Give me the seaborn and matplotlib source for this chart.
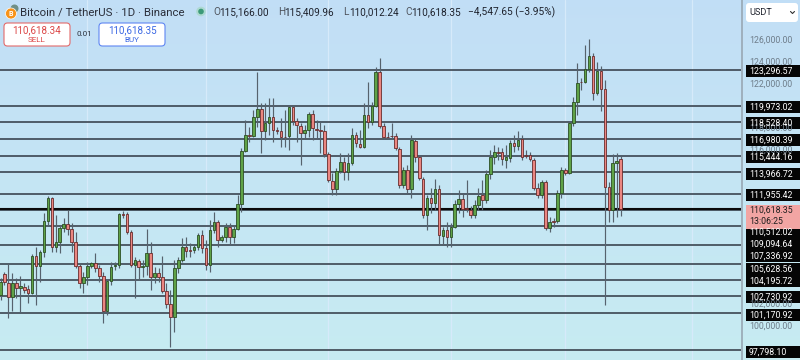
import numpy as np
import pandas as pd
import seaborn as sns
import matplotlib
matplotlib.use("Agg")
import matplotlib.pyplot as plt
from matplotlib.patches import FancyBboxPatch, Rectangle, Circle

# ---------------- data ----------------
opens = [102818, 104727, 103909, 102636, 103909, 103455, 103545, 103364, 103000, 106364,
         105455, 106727, 109545, 111636, 107182, 107636, 108909, 109273, 108818, 107636,
         105455, 103909, 104455, 105455, 105727, 105273, 104545, 101364, 104091, 105455,
         105545, 110182, 110182, 108545, 105545, 105909, 105364, 105455, 106636, 104455,
         104818, 104455, 103182, 102000, 100818, 105273, 106000, 107182, 106909, 106909,
         107182, 108273, 107091, 105545, 108727, 109455, 107818, 108091, 109000, 108091,
         108818, 111091, 115909, 117364, 117273, 119000, 119727, 117727, 118455, 119000,
         117818, 117727, 117182, 117273, 119909, 118636, 118182, 117545, 117818, 119273,
         117909, 117818, 117727, 115636, 113182, 112455, 114091, 114909, 114000, 114818,
         117364, 116545, 116273, 119182, 118545, 120000, 123091, 118182, 117182, 117273,
         117273, 116091, 112818, 114182, 112455, 116818, 115364, 113364, 110091, 111636,
         111182, 112455, 108182, 108727, 108091, 109000, 111091, 111545, 110727, 110545,
         110091, 111000, 111909, 111455, 113818, 115364, 115818, 115818, 115091, 115273,
         116636, 116364, 117000, 115545, 115545, 115091, 112545, 111909, 113091, 108909,
         109545, 109545, 112091, 114182, 113909, 118455, 120364, 122182, 122182, 123364,
         124545, 121182, 123182, 121545, 112636, 110545, 114818, 115166.00]
closes = [104000, 104000, 102636, 103909, 103455, 103636, 103273, 103000, 106364, 105455,
          106727, 109545, 111636, 107182, 107636, 108909, 109273, 108818, 107636, 105455,
          103909, 104455, 105455, 105727, 105273, 104545, 101364, 104091, 105364, 105545,
          110182, 110091, 108545, 105545, 106000, 105364, 105455, 106636, 104455, 104818,
          104455, 103182, 102000, 100818, 105273, 106000, 107182, 106818, 106860, 107182,
          108273, 107091, 105545, 108727, 109455, 107818, 108091, 109000, 108091, 108818,
          111091, 115909, 117364, 117273, 119000, 119727, 117727, 118455, 119000, 117818,
          117727, 117182, 117140, 119909, 118636, 118273, 117545, 117818, 119273, 118000,
          117860, 117770, 115636, 113273, 112455, 114091, 114909, 114000, 114818, 117364,
          116636, 116273, 119182, 118545, 120000, 123091, 118182, 117182, 117140, 117230,
          116182, 112818, 114182, 112455, 116909, 115364, 113455, 110091, 111636, 111182,
          112455, 108273, 108727, 108091, 109000, 111091, 111545, 110636, 110636, 110091,
          111000, 111818, 111455, 113818, 115364, 115818, 115770, 115182, 115364, 116636,
          116364, 116909, 115364, 115500, 115182, 112545, 111909, 113091, 108909, 109455,
          109500, 112091, 114182, 113909, 118455, 120364, 122091, 122140, 123364, 124545,
          121182, 123182, 121545, 112636, 110545, 114818, 115000, 110618.35]
highs = [104364, 104909, 105636, 104818, 104364, 104545, 103909, 103727, 106545, 107182,
         106909, 110273, 111818, 111727, 110091, 109182, 109818, 110545, 109364, 108545,
         105727, 104909, 105818, 105818, 106636, 105545, 104909, 104182, 105818, 105818,
         110273, 110455, 110364, 108727, 106273, 106091, 106000, 108818, 107636, 105364,
         105273, 106364, 103909, 103273, 106000, 106273, 108000, 108091, 107545, 107364,
         108455, 108727, 107818, 109636, 110364, 109636, 108273, 109364, 109364, 109182,
         111909, 116182, 118727, 118091, 119636, 123091, 120273, 120273, 120727, 120727,
         118091, 118909, 119636, 120091, 120091, 118909, 118455, 118273, 119455, 119636,
         118727, 118545, 118273, 115818, 113909, 114364, 115727, 115364, 115727, 118000,
         117636, 117818, 120273, 122182, 120364, 123545, 124364, 118455, 117636, 118455,
         117545, 116273, 114455, 114636, 117364, 117000, 115545, 113545, 111909, 112545,
         113364, 112818, 109000, 109455, 109364, 111455, 112364, 112000, 113273, 110909,
         111455, 112545, 113273, 114182, 116000, 116455, 116273, 116182, 116455, 116909,
         117364, 117727, 117364, 116000, 115818, 115273, 113000, 113273, 113273, 109909,
         109818, 112364, 114455, 114364, 118636, 120818, 123909, 122545, 125545, 126091,
         124818, 124000, 123636, 122364, 113091, 115636, 115727, 115409.96]
lows = [102364, 103727, 100727, 101364, 102545, 101273, 103000, 102091, 102950, 101909,
        104000, 106273, 109182, 106727, 106727, 106636, 108545, 108273, 106727, 105273,
        103455, 103000, 103727, 105273, 104909, 104000, 100273, 101000, 103727, 105091,
        105273, 109818, 108364, 105364, 102545, 104182, 104455, 104636, 103273, 103909,
        104000, 103000, 101636, 98091, 99455, 104818, 105818, 106273, 106273, 106636,
        106909, 106636, 105091, 104909, 108455, 107182, 107636, 107636, 107364, 107545,
        108727, 110364, 115818, 116727, 117182, 118091, 115727, 116909, 117364, 116727,
        117455, 116273, 116273, 116000, 118273, 116727, 114636, 117091, 117182, 116909,
        117091, 115727, 115364, 113091, 111909, 111909, 113909, 113273, 113273, 114636,
        116273, 116182, 116182, 118000, 118273, 119909, 118000, 117000, 117000, 117000,
        116000, 112545, 112545, 112091, 111636, 114909, 113273, 109818, 108727, 110273,
        110545, 107364, 107364, 107182, 107182, 108909, 110273, 109909, 110364, 109818,
        109818, 110545, 110545, 111182, 113364, 114727, 115091, 114636, 114364, 114909,
        115818, 116000, 115091, 115273, 115000, 112364, 111636, 111636, 108727, 108545,
        109000, 109364, 111636, 113727, 113818, 118182, 119182, 121455, 122091, 123091,
        120545, 121000, 119545, 101909, 109455, 109455, 109909, 110012.24]

level_values = [123296.57, 119973.02, 118528.40, 116980.39, 115444.16, 113966.72,
                111955.42, 110512.02, 109094.64, 107336.92, 105628.56, 104195.72,
                102730.92, 101170.92, 97798.10]
level_labels = ["123,296.57", "119,973.02", "118,528.40", "116,980.39", "115,444.16",
                "113,966.72", "111,955.42", "110,512.02", "109,094.64", "107,336.92",
                "105,628.56", "104,195.72", "102,730.92", "101,170.92", "97,798.10"]
axis_tick_labels = ["126,000.00", "124,000.00", "122,000.00", "118,000.00",
                    "116,000.00", "102,000.00", "100,000.00"]
last_price = 110618.35
last_price_label = "110,618.35"
countdown = "13:06:25"
title = "Bitcoin / TetherUS · 1D · Binance"
ohlc_text = [("O", "115,166.00"), ("H", "115,409.96"), ("L", "110,012.24"), ("C", "110,618.35")]
change_text = "−4,547.65 (−3.95%)"
sell_price, buy_price, spread = "110,618.34", "110,618.35", "0.01"

df = pd.DataFrame({"open": opens, "high": highs, "low": lows, "close": closes})
df["idx"] = np.arange(len(df))
df["up"] = df["close"] >= df["open"]

# ---------------- figure ----------------
sns.set_theme(style="white")
plt.rcParams["font.family"] = ["Roboto", "DejaVu Sans"]

W, H = 800, 360
fig = plt.figure(figsize=(8, 3.6), dpi=100)

# background gradient
bg = fig.add_axes([0, 0, 1, 1], zorder=0)
top = np.array([0.760, 0.872, 0.965])
bot = np.array([0.780, 0.925, 0.948])
t = np.linspace(0, 1, 256)[:, None]
grad = (top[None, :] * (1 - t) + bot[None, :] * t)[:, None, :]
bg.imshow(grad, aspect="auto", extent=[0, 1, 0, 1])
bg.axis("off")

# price -> pixel mapping:  y_px = 40 + (126000 - p) * 0.011
def py(p):
    return 40 + (126000 - p) * 0.011

plot_w = 741
ax = fig.add_axes([0, 0, plot_w / W, 1], zorder=1)
ax.patch.set_alpha(0)
xmin = -0.13
ax.set_xlim(xmin, xmin + plot_w / 3.95)
ax.set_ylim(126000 - (360 - 40) / 0.011, 126000 + 40 / 0.011)
ax.set_xticks([])
ax.set_yticks([])
sns.despine(ax=ax, left=True, bottom=True)

# faint vertical grid
for gx in [22, 52, 83, 114, 143, 175]:
    ax.axvline(gx, color="#d6eafa", lw=0.9, zorder=0.5)

# horizontal levels
for lv in level_values:
    ax.axhline(lv, color="#3b4550", lw=1.2, zorder=1)
ax.axhline(last_price, color="#0a0a0a", lw=1.5, zorder=1.2)

# candles
up_fill, up_edge = "#5fa247", "#2c4f25"
dn_fill, dn_edge = "#ea8681", "#6a2c2c"
ax.vlines(df["idx"], df["low"], df["high"], color="#56626d", lw=0.85, zorder=2)
body_bottom = np.minimum(df["open"], df["close"])
body_h = np.maximum(np.abs(df["close"] - df["open"]), 70)
ax.bar(df["idx"], body_h, bottom=body_bottom, width=0.66,
       color=np.where(df["up"], up_fill, dn_fill),
       edgecolor=np.where(df["up"], up_edge, dn_edge), linewidth=0.6, zorder=3)

# ---------------- overlay in pixel coords ----------------
ov = fig.add_axes([0, 0, 1, 1], zorder=5)
ov.set_xlim(0, W)
ov.set_ylim(H, 0)
ov.axis("off")
ov.patch.set_alpha(0)

# right price-scale separator
ov.plot([742, 742], [0, H], color="#98a7b3", lw=1.2)

# gray axis labels
for lab in axis_tick_labels:
    val = float(lab.replace(",", ""))
    ov.text(749, py(val), lab, fontsize=6.3, color="#6e7d8a", va="center", ha="left")

# black level boxes
label_y = [71, 107, 123, 140, 157, 174, 195, 232.3, 244, 256.3, 268.6, 281, 297, 314.5, 351.5]
for lab, yy in zip(level_labels, label_y):
    ov.add_patch(Rectangle((746, yy - 6), 54, 12, facecolor="#050505", edgecolor="none"))
    ov.text(749, yy + 0.3, lab, fontsize=6.3, color="white", va="center", ha="left")

# current price box
ov.add_patch(Rectangle((746, 204.5), 54, 24, facecolor="#f2a5a3", edgecolor="none"))
ov.text(749, 210.5, last_price_label, fontsize=6.3, color="#1e1e1e", va="center", ha="left")
ov.text(749, 222, countdown, fontsize=6.3, color="#1e1e1e", va="center", ha="left")

# USDT selector
ov.add_patch(FancyBboxPatch((746, 3), 52, 19, boxstyle="round,pad=0,rounding_size=3",
                            facecolor="white", edgecolor="none"))
ov.text(749, 12.5, "USDT", fontsize=6.6, color="#1e222d", va="center", ha="left")
ov.plot([790.5, 792.5, 794.5], [11.5, 13.5, 11.5], color="#333", lw=0.8)

# header icon
ov.add_patch(Circle((14.5, 8.5), 4, facecolor="#6f8f86", edgecolor="none"))
ov.add_patch(Circle((11, 13.5), 5.5, facecolor="#f7931a", edgecolor="white", lw=0.5))
ov.text(11, 13.8, "B", fontsize=5, color="white", fontweight="bold", ha="center", va="center")

ov.text(20, 12.5, title, fontsize=8.2, color="#2a2e39", va="center", ha="left")
ov.add_patch(Circle((201, 11.5), 4.8, facecolor="#a8d8c8", edgecolor="none", alpha=0.8))
ov.add_patch(Circle((201, 11.5), 2.8, facecolor="#3c9a78", edgecolor="none"))

xs_letter = [213, 278, 343, 405]
for (letter, val), xl in zip(ohlc_text, xs_letter):
    ov.text(xl, 12, letter, fontsize=7.2, color="#50555e", va="center", ha="left")
    ov.text(xl + 6.5, 12, val, fontsize=7.2, color="#1e222d", va="center", ha="left")
ov.text(468, 12, change_text, fontsize=7.3, color="#1e222d", va="center", ha="left")

# sell / buy buttons
ov.add_patch(FancyBboxPatch((4, 23), 66, 23, boxstyle="round,pad=0,rounding_size=3.5",
                            facecolor="white", edgecolor="#e46a6a", lw=0.8))
ov.text(37, 30, sell_price, fontsize=7.1, color="#dc4646", ha="center", va="center")
ov.text(37, 40.5, "SELL", fontsize=5.9, color="#dc4646", ha="center", va="center")
ov.text(84, 34.5, spread, fontsize=5.8, color="#2a2e39", ha="center", va="center")
ov.add_patch(FancyBboxPatch((99, 23), 66, 23, boxstyle="round,pad=0,rounding_size=3.5",
                            facecolor="white", edgecolor="#5f86f2", lw=0.8))
ov.text(132, 30, buy_price, fontsize=7.1, color="#3b68e4", ha="center", va="center")
ov.text(132, 40.5, "BUY", fontsize=5.9, color="#3b68e4", ha="center", va="center")

fig.savefig("out.png", dpi=100)
